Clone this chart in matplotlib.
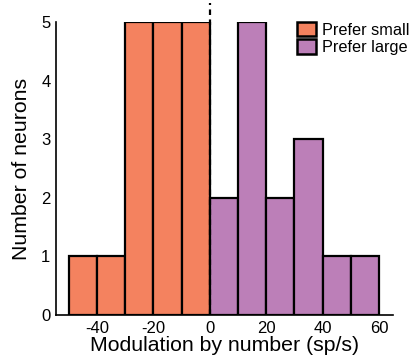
import numpy as np
import matplotlib.pyplot as plt
from matplotlib.patches import Patch

plt.rcParams['font.family'] = ['Liberation Sans', 'DejaVu Sans']
plt.rcParams['axes.unicode_minus'] = False

# 데이터
bin_left = [-50, -40, -30, -20, -10, 0, 10, 20, 30, 40, 50]
counts = [1, 1, 5, 5, 5, 2, 5, 2, 3, 1, 1]
labels = ['Prefer small', 'Prefer large']
colors = ['#F4825F', '#BC7FB8']
xticks = [-40, -20, 0, 20, 40, 60]
yticks = [0, 1, 2, 3, 4, 5]

fig = plt.figure(figsize=(4.13, 3.63), dpi=100)
ax = fig.add_axes([0.1356, 0.132, 0.816, 0.807])

for left, c in zip(bin_left, counts):
    col = colors[0] if left < 0 else colors[1]
    ax.bar(left, c, width=10, align='edge', color=col, edgecolor='black', linewidth=1.6, zorder=2)

# 0 기준 점선
ax.plot([0, 0], [0, 5.33], linestyle=(0, (2.5, 2)), color='black', linewidth=1.6, clip_on=False, zorder=3)

ax.set_xlim(-54.6, 65)
ax.set_ylim(0, 5)
ax.set_xticks(xticks)
ax.set_yticks(yticks)
ax.tick_params(length=0, labelsize=12, pad=4)
ax.spines['top'].set_visible(False)
ax.spines['right'].set_visible(False)
ax.spines['left'].set_linewidth(1.2)
ax.spines['bottom'].set_linewidth(1.2)

ax.set_xlabel('Modulation by number (sp/s)', fontsize=15.3, labelpad=0)
ax.set_ylabel('Number of neurons', fontsize=15.3, labelpad=7)

handles = [Patch(facecolor=colors[i], edgecolor='black', linewidth=1.8, label=labels[i]) for i in range(2)]
fig.legend(handles=handles, loc='upper left', bbox_to_anchor=(0.718, 0.94), frameon=False,
           fontsize=11.7, handlelength=1.2, handleheight=1.0, handletextpad=0.37, labelspacing=0.1,
           borderpad=0, borderaxespad=0)

fig.savefig('out.png', dpi=100)
